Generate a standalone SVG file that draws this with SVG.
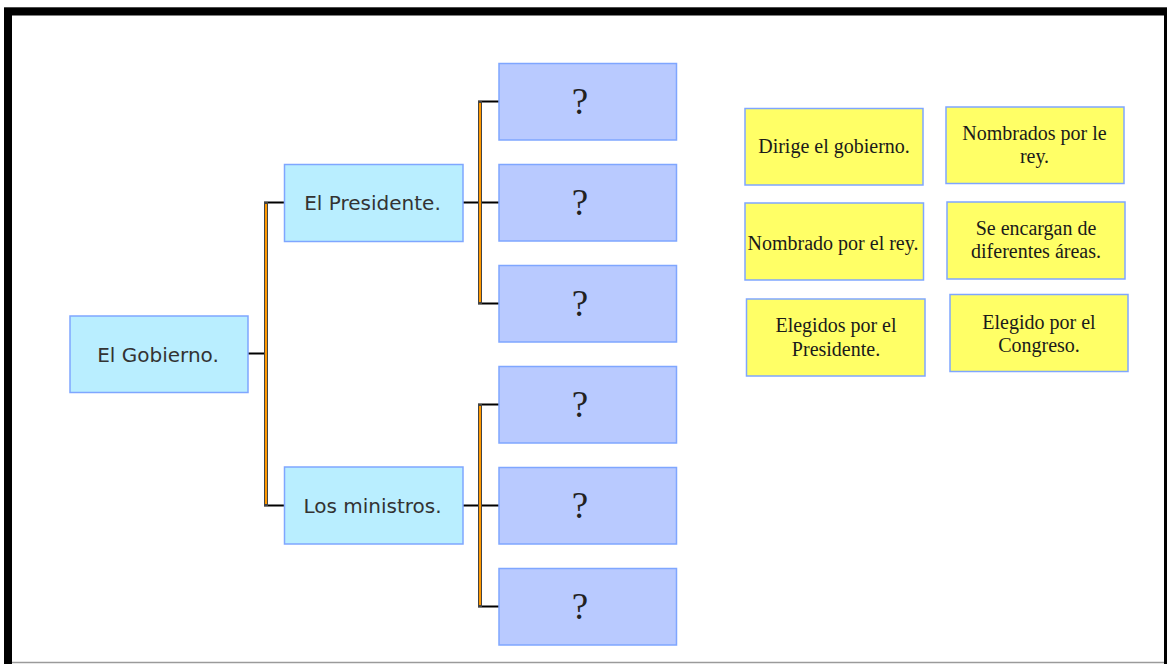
<svg xmlns="http://www.w3.org/2000/svg" width="1167" height="664" viewBox="0 0 1167 664">
  <style>
    .main { fill: #b9eeff; stroke: #7fa6ff; stroke-width: 1.5; }
    .q { fill: #b9caff; stroke: #7fa6ff; stroke-width: 1.5; }
    .y { fill: #ffff66; stroke: #7fa6ff; stroke-width: 1.5; }
    .sans { font-family: "DejaVu Sans", Verdana, sans-serif; font-size: 20px; fill: #333333; text-anchor: middle; }
    .serif { font-family: "Liberation Serif", "Times New Roman", serif; font-size: 20px; fill: #1a1a1a; text-anchor: middle; }
    .qm { font-family: "Liberation Serif", "Times New Roman", serif; font-size: 37px; fill: #222222; text-anchor: middle; }
    .h { stroke: #000000; stroke-width: 2; fill: none; }
    .vo { stroke: #444444; stroke-width: 4; fill: none; }
    .vi { stroke: #ff9900; stroke-width: 2; fill: none; }
  </style>
  <rect x="0" y="0" width="1167" height="664" fill="#ffffff"/>
  <g id="frame">
    <line x1="4" y1="7.5" x2="1167" y2="7.5" stroke="#9a9a9a" stroke-width="1"/>
    <rect x="8" y="11.5" width="1160" height="700" fill="none" stroke="#000000" stroke-width="8"/>
    <line x1="12" y1="662.5" x2="1164" y2="662.5" stroke="#9a9a9a" stroke-width="1.5"/>
  </g>
  <g id="connectors">
    <!-- Gobierno -->
    <line class="h" x1="248" y1="353.5" x2="266" y2="353.5"/>
    <line class="h" x1="264" y1="202.5" x2="284" y2="202.5"/>
    <line class="h" x1="264" y1="505.5" x2="284" y2="505.5"/>
    <line class="vo" x1="266" y1="202" x2="266" y2="506"/>
    <line class="vi" x1="266" y1="204" x2="266" y2="504"/>
    <!-- Presidente -->
    <line class="h" x1="463" y1="202.5" x2="499" y2="202.5"/>
    <line class="h" x1="478" y1="101.5" x2="499" y2="101.5"/>
    <line class="h" x1="478" y1="303.5" x2="499" y2="303.5"/>
    <line class="vo" x1="480" y1="101" x2="480" y2="304"/>
    <line class="vi" x1="480" y1="103" x2="480" y2="302"/>
    <!-- Ministros -->
    <line class="h" x1="463" y1="505.5" x2="499" y2="505.5"/>
    <line class="h" x1="478" y1="404.5" x2="499" y2="404.5"/>
    <line class="h" x1="478" y1="606.5" x2="499" y2="606.5"/>
    <line class="vo" x1="480" y1="404" x2="480" y2="607"/>
    <line class="vi" x1="480" y1="406" x2="480" y2="605"/>
  </g>
  <g id="gobierno">
    <rect class="main" x="70" y="316" width="178" height="76.5"/>
    <text class="sans" x="158" y="361.5">El Gobierno.</text>
  </g>
  <g id="presidente">
    <rect class="main" x="284.5" y="164.5" width="178.5" height="77"/>
    <text class="sans" x="372.5" y="210">El Presidente.</text>
  </g>
  <g id="ministros">
    <rect class="main" x="284.5" y="467" width="178.5" height="77"/>
    <text class="sans" x="372.5" y="513">Los ministros.</text>
  </g>
  <g id="q1"><rect class="q" x="499" y="63.5" width="177.5" height="76.5"/><text class="qm" x="580" y="114">?</text></g>
  <g id="q2"><rect class="q" x="499" y="164.5" width="177.5" height="76.5"/><text class="qm" x="580" y="215">?</text></g>
  <g id="q3"><rect class="q" x="499" y="265.5" width="177.5" height="76.5"/><text class="qm" x="580" y="316">?</text></g>
  <g id="q4"><rect class="q" x="499" y="366.5" width="177.5" height="76.5"/><text class="qm" x="580" y="417">?</text></g>
  <g id="q5"><rect class="q" x="499" y="467.5" width="177.5" height="76.5"/><text class="qm" x="580" y="518">?</text></g>
  <g id="q6"><rect class="q" x="499" y="568.5" width="177.5" height="76.5"/><text class="qm" x="580" y="619">?</text></g>
  <g id="a1">
    <rect class="y" x="745" y="108.5" width="178" height="76.5"/>
    <text class="serif" x="834" y="152.5">Dirige el gobierno.</text>
  </g>
  <g id="a2">
    <rect class="y" x="946" y="107" width="178" height="76.5"/>
    <text class="serif" x="1034.5" y="140">Nombrados por le</text>
    <text class="serif" x="1034.5" y="162.5">rey.</text>
  </g>
  <g id="a3">
    <rect class="y" x="745" y="203" width="178.5" height="77"/>
    <text class="serif" x="833" y="249.5">Nombrado por el rey.</text>
  </g>
  <g id="a4">
    <rect class="y" x="947" y="202" width="178" height="77"/>
    <text class="serif" x="1036" y="234.5">Se encargan de</text>
    <text class="serif" x="1036" y="258">diferentes áreas.</text>
  </g>
  <g id="a5">
    <rect class="y" x="746.5" y="299" width="178.5" height="77"/>
    <text class="serif" x="836" y="331.5">Elegidos por el</text>
    <text class="serif" x="836" y="356">Presidente.</text>
  </g>
  <g id="a6">
    <rect class="y" x="950" y="294.5" width="178" height="77"/>
    <text class="serif" x="1039" y="328.5">Elegido por el</text>
    <text class="serif" x="1039" y="352">Congreso.</text>
  </g>
</svg>
